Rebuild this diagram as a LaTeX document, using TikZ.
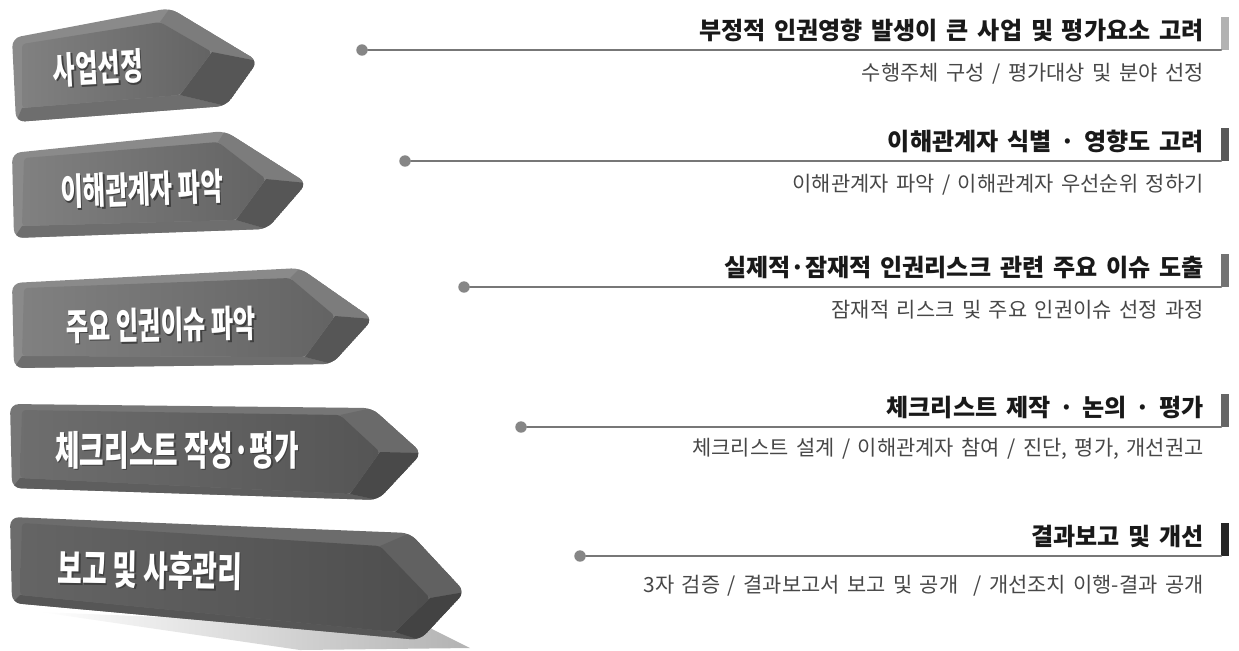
\documentclass[tikz,border=0pt]{standalone}
\usepackage{fontspec}
\newfontfamily\headfont[WordSpace=1.9]{Noto Sans CJK KR}
\newfontfamily\subfont[WordSpace=1.6]{Noto Sans CJK KR}
\newfontfamily\stepfont[FakeStretch=0.66]{Noto Sans CJK KR}
\usetikzlibrary{calc}

\definecolor{stepA}{HTML}{8A8A8A}
\definecolor{stepB}{HTML}{767676}
\definecolor{stepC}{HTML}{6C6C6C}
\definecolor{guidegray}{HTML}{777777}

% outline of one step block, #1 = prefix of its coordinates
\newcommand{\stepoutline}[1]{(#1a) -- (#1b) -- (#1c) -- (#1d) -- (#1e) -- cycle}

% one 3d step block, #1 = prefix, #2 = base colour
\newcommand{\stepbody}[2]{%
  \fill[#2, rounded corners=5pt] \stepoutline{#1};
  \begin{scope}
    \clip[rounded corners=5pt] \stepoutline{#1};
    \fill[#2!90!black] (#1bi) -- (#1b) -- (#1c) -- (#1ci) -- cycle;
    \fill[#2!80!black] (#1ei) -- (#1di) -- (#1d) -- (#1e) -- cycle;
    \fill[#2!62!black] (#1ci) -- (#1c) -- (#1d) -- (#1di) -- cycle;
    \shade[left color=#2!93!black, right color=#2!72!black, rounded corners=2pt]
      (#1ai) -- (#1bi) -- (#1ci) -- (#1di) -- (#1ei) -- cycle;
  \end{scope}
}

% white label with a dark drop shadow
\newcommand{\steptext}[6]{%
  \node[steplabel=#5, text=black!75, rotate=#4] (#1s) at (#2+1.5,#3+1.5) {#6};
  \node[steplabel=#5, text=white, rotate=#4] (#1) at (#2,#3) {#6};
}

\begin{document}
\begin{tikzpicture}[x=0.02cm,y=-0.02cm,line cap=round,line join=round]
\tikzset{
  steplabel/.style={inner sep=0pt, font=\stepfont\bfseries\fontsize{#1}{#1}\selectfont},
  pindot/.style={circle, fill=gray!95, inner sep=0pt, minimum size=6.5pt},
  endbar/.style={rectangle, inner sep=0pt, minimum width=4.5pt, minimum height=18.7pt},
  guide/.style={draw=guidegray, line width=1.4pt},
  headtext/.style={inner sep=0pt, text=black!90, font=\headfont\bfseries\fontsize{13.7}{15}\selectfont},
  subtext/.style={inner sep=0pt, text=black!72, font=\subfont\fontsize{11.9}{13}\selectfont}
}
\useasboundingbox (0,0) rectangle (1239,650);

% shadow below the last block
\shade[left color=white, right color=gray!60]
  (40,612) -- (430,628) -- (470,648) -- (300,650) -- cycle;

% step blocks
\path (12,38) coordinate (s1a) (170,8) coordinate (s1b) (258,61) coordinate (s1c)
      (226,106) coordinate (s1d) (16,122) coordinate (s1e)
      (22,44) coordinate (s1ai) (160,22) coordinate (s1bi) (212,52) coordinate (s1ci)
      (180,95) coordinate (s1di) (22,108) coordinate (s1ei);
\stepbody{s1}{stepA}

\path (12,153) coordinate (s2a) (225,131) coordinate (s2b) (307,183) coordinate (s2c)
      (267,229) coordinate (s2d) (14,238) coordinate (s2e)
      (24,158) coordinate (s2ai) (218,142) coordinate (s2bi) (266,179) coordinate (s2ci)
      (236,220) coordinate (s2di) (22,226) coordinate (s2ei);
\stepbody{s2}{stepA}

\path (12,283) coordinate (s3a) (300,268) coordinate (s3b) (373,319) coordinate (s3c)
      (332,364) coordinate (s3d) (14,368) coordinate (s3e)
      (24,288) coordinate (s3ai) (290,278) coordinate (s3bi) (335,316) coordinate (s3ci)
      (305,357) coordinate (s3di) (22,356) coordinate (s3ei);
\stepbody{s3}{stepA}

\path (10,404) coordinate (s4a) (372,408) coordinate (s4b) (422,453) coordinate (s4c)
      (378,500) coordinate (s4d) (12,488) coordinate (s4e)
      (22,410) coordinate (s4ai) (340,415) coordinate (s4bi) (380,452) coordinate (s4ci)
      (350,494) coordinate (s4di) (20,478) coordinate (s4ei);
\stepbody{s4}{stepB}

\path (10,517) coordinate (s5a) (410,533) coordinate (s5b) (465,592) coordinate (s5c)
      (420,640) coordinate (s5d) (12,603) coordinate (s5e)
      (22,523) coordinate (s5ai) (380,546) coordinate (s5bi) (430,598) coordinate (s5ci)
      (395,632) coordinate (s5di) (20,595) coordinate (s5ei);
\stepbody{s5}{stepC}

\steptext{step1}{98}{68}{3}{21}{사업선정}
\steptext{step2}{142}{189}{2}{21}{이해관계자 파악}
\steptext{step3}{161}{325}{1}{21}{주요 인권이슈 파악}
\steptext{step4}{177}{450}{0}{23}{체크리스트 작성·평가}
\steptext{step5}{150}{570}{-1}{23}{보고 및 사후관리}

% guide lines with titles
\foreach \n/\dotx/\liney/\subdy/\barcol/\head/\sub in {
  1/362/50/30/gray!60/{부정적 인권영향 발생이 큰 사업 및 평가요소 고려}/{수행주체 구성 / 평가대상 및 분야 선정},
  2/405/161/30/gray!130/{이해관계자 식별 · 영향도 고려}/{이해관계자 파악 / 이해관계자 우선순위 정하기},
  3/464/287/30/gray!110/{실제적·잠재적 인권리스크 관련 주요 이슈 도출}/{잠재적 리스크 및 주요 인권이슈 선정 과정},
  4/521/427/28/gray!120/{체크리스트 제작 · 논의 · 평가}/{체크리스트 설계 / 이해관계자 참여 / 진단, 평가, 개선권고},
  5/580/556/36/black!85/{결과보고 및 개선}/{3자 검증 / 결과보고서 보고 및 공개\ \ / 개선조치 이행-결과 공개}}
{
  \node[pindot] (dot\n) at (\dotx,\liney) {};
  \node[endbar, fill=\barcol, anchor=south west] (bar\n) at (1221,\liney) {};
  \draw[guide] (dot\n) -- (bar\n.south west);
  \node[headtext, anchor=base east] (head\n) at (1204,\liney-11) {\head};
  \node[subtext, anchor=base east] (sub\n) at (1204,\liney+\subdy) {\sub};
}
\end{tikzpicture}
\end{document}
